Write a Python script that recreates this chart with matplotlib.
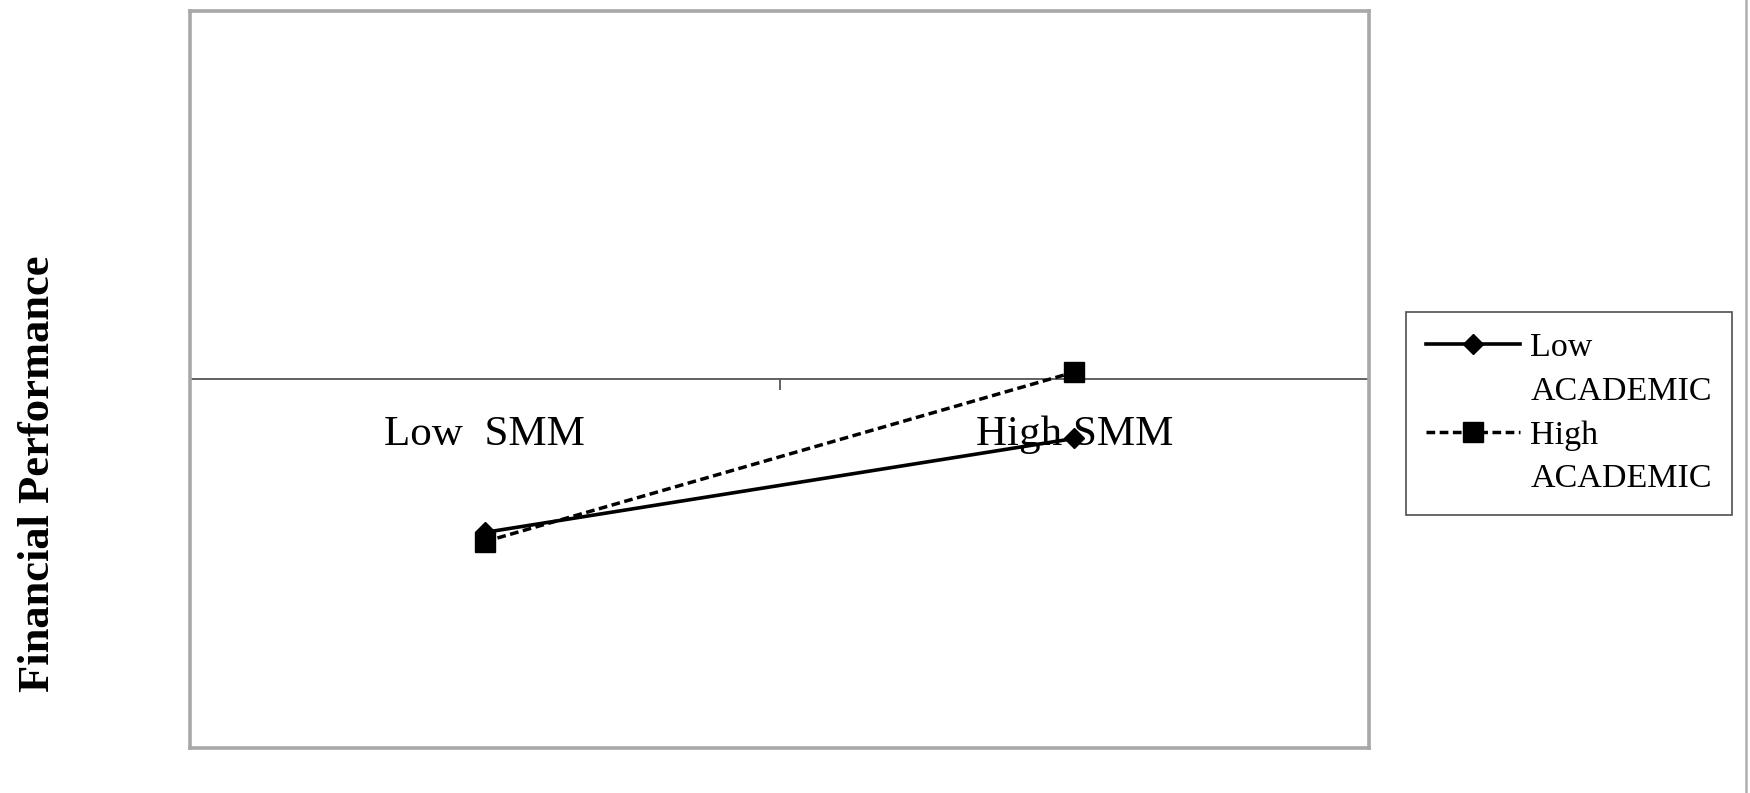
import matplotlib
matplotlib.use("Agg")
import matplotlib.pyplot as plt
from matplotlib.lines import Line2D

# ---- data ----
categories = ["Low  SMM", "High SMM"]
low_academic = [-0.415, -0.16]
high_academic = [-0.44, 0.02]
series_labels = ["Low", "High"]
legend_sub = "ACADEMIC"
y_label = "Financial Performance"

plt.rcParams['font.family'] = ['Liberation Serif', 'DejaVu Serif']

W, H = 1750, 793
fig = plt.figure(figsize=(W / 100, H / 100), dpi=100)
ax = fig.add_axes([190 / W, 1 - 748 / H, (1369 - 190) / W, (748 - 11) / H])

x = list(range(len(categories)))
l1, = ax.plot(x, low_academic, color='black', lw=2.6, marker='D', markersize=10.5,
              zorder=3)
l2, = ax.plot(x, high_academic, color='black', lw=2.5, marker='s', markersize=15,
              linestyle=(0, (2.5, 1.3)), zorder=4)

ax.set_xlim(-0.5, len(categories) - 0.5)
ax.set_ylim(-1, 1)
ax.set_xticks([])
ax.set_yticks([])
for s in ax.spines.values():
    s.set_color('#a8a8a8')
    s.set_linewidth(2.6)

# category axis crossing at y = 0
sec = ax.secondary_xaxis(0.5)
for k in ('top', 'bottom'):
    sec.spines[k].set_color('#555555')
    sec.spines[k].set_linewidth(1.3)
sec.set_xticks([-0.5 + i for i in range(len(categories) + 1)])
sec.set_xticks(x, minor=True)
sec.set_xticklabels(categories, minor=True, fontsize=31)
sec.tick_params(axis='x', which='both', top=False, bottom=True,
                labeltop=False, labelbottom=True)
sec.tick_params(axis='x', which='major', direction='out', length=8, width=1.3,
                color='#555555', labelbottom=False)
sec.tick_params(axis='x', which='minor', length=0, pad=26)

fig.text(38 / W, 1 - 474 / H, y_label, rotation=90, fontsize=32, fontweight='bold',
         ha='center', va='center')

blank = Line2D([], [], color='none')
leg = fig.legend([l1, blank, l2, blank],
                 [series_labels[0], legend_sub, series_labels[1], legend_sub],
                 loc='upper left', bbox_to_anchor=(1406 / W, 1 - 312 / H),
                 fontsize=24.5, frameon=True, fancybox=False, handlelength=2.75,
                 handletextpad=0.3, labelspacing=0.38, borderpad=0.6,
                 borderaxespad=0)
leg.get_frame().set_edgecolor('#222222')
leg.get_frame().set_linewidth(1.2)

fig.add_artist(Line2D([1746 / W, 1746 / W], [0, 1], transform=fig.transFigure,
                      color='#b0b0b0', lw=1.8))

fig.savefig("out.png", dpi=100, facecolor='white')
